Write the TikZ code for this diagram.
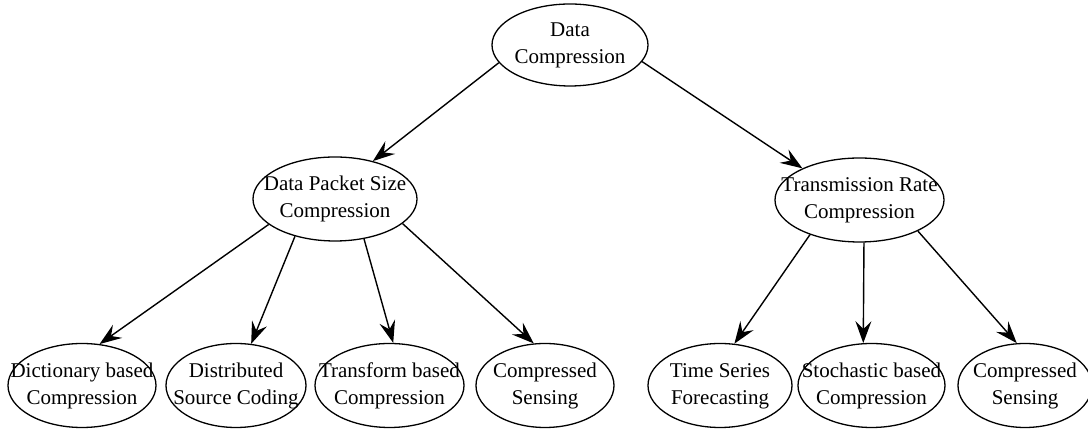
\documentclass[tikz,border=0pt]{standalone}
\usepackage{fontspec}
\setmainfont{Liberation Serif}
\usetikzlibrary{arrows.meta,shapes.geometric}
\newcommand{\twolines}[2]{\makebox[0pt][c]{\renewcommand\arraystretch{1.07}\begin{tabular}{@{}c@{}}#1\\#2\end{tabular}}}
\tikzset{
  oval/.style={draw, line width=1.3pt, shape=ellipse, inner sep=0pt, minimum height=84pt, font=\fontsize{21}{25.2}\selectfont},
  link/.style={line width=1.4pt, -{Stealth[length=22pt, width=16pt, inset=8pt]}}
}
\begin{document}
\begin{tikzpicture}[x=1pt,y=1pt]
\clip (0,0) rectangle (1088,430);
\useasboundingbox (0,0) rectangle (1088,430);
\node[oval, minimum width=156pt, minimum height=82pt] (t) at (570,385) {\twolines{Data}{Compression}};
\node[oval, minimum width=164pt] (dps) at (335,231) {\twolines{Data Packet Size}{Compression}};
\node[oval, minimum width=169pt] (tr) at (859.5,230) {\twolines{Transmission Rate}{Compression}};
\node[oval, minimum width=148pt] (dict) at (82,44.5) {\twolines{Dictionary based}{Compression}};
\node[oval, minimum width=140pt] (dist) at (236,44.5) {\twolines{Distributed}{Source Coding}};
\node[oval, minimum width=149pt] (trans) at (389.5,44.5) {\twolines{Transform based}{Compression}};
\node[oval, minimum width=138pt] (cs1) at (545,44.5) {\twolines{Compressed}{Sensing}};
\node[oval, minimum width=144pt] (ts) at (720,44.5) {\twolines{Time Series}{Forecasting}};
\node[oval, minimum width=147pt] (st) at (871.5,44.5) {\twolines{Stochastic based}{Compression}};
\node[oval, minimum width=134pt] (cs2) at (1025,44.5) {\twolines{Compressed}{Sensing}};
\draw[link] (t.-166.9) -- (dps.45);
\draw[link] (t.-13.1) -- (tr.151.7);
\draw[link] (dps.-159) -- (dict.67.5);
\draw[link] (dps.-137.9) -- (dist.70.2);
\draw[link] (dps.-54.3) -- (trans.85.4);
\draw[link] (dps.-20.4) -- (cs1.105.4);
\draw[link] (tr.-145.8) -- (ts.71);
\draw[link] (tr.-84) -- (st.101);
\draw[link] (tr.-28.7) -- (cs2.101.7);
\end{tikzpicture}
\end{document}
